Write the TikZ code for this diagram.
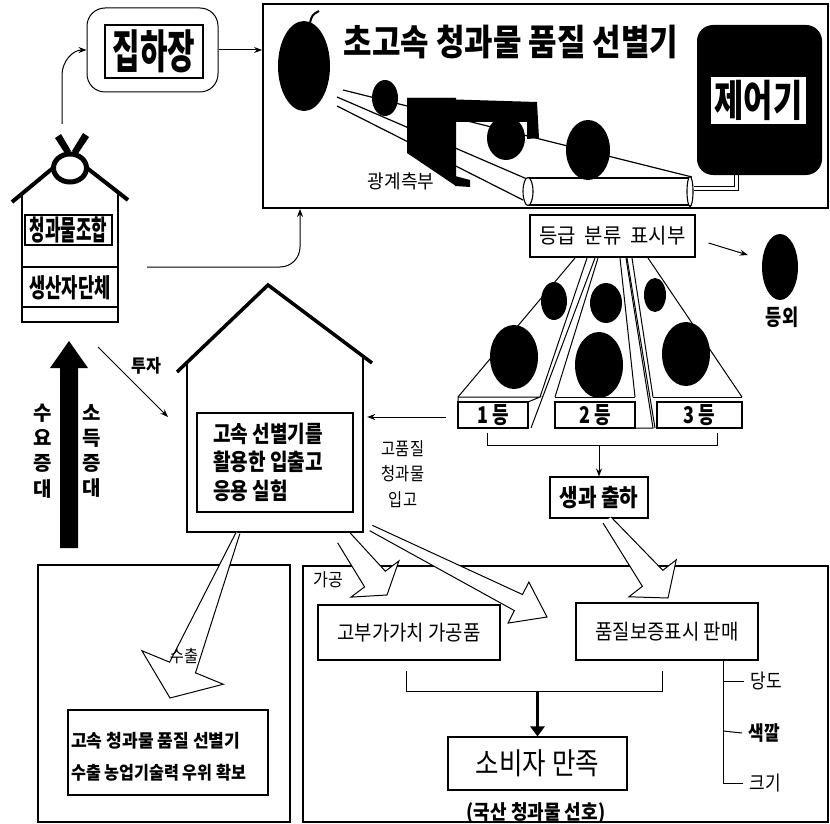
\documentclass[tikz,border=0pt]{standalone}
\usepackage{fontspec}
\usepackage{graphicx}
\setmainfont{Noto Sans CJK KR}
\usetikzlibrary{arrows.meta,calc,shapes.geometric}

\newcommand\cx[2]{\scalebox{#1}[1]{#2}}
\newcommand\fsz[1]{\fontsize{#1}{#1}\selectfont}
% tapered block arrow with open tail: start, tip, half width at start,
% half width at head base, half head width, head length
\newcommand\hollowarrow[6]{%
  \coordinate (ha-base) at ($(#2)!#6!(#1)$);
  \draw[hollow] ($(#1)!#3!90:(#2)$) -- ($(ha-base)!#4!90:(#2)$)
    -- ($(ha-base)!#5!90:(#2)$) -- (#2) -- ($(ha-base)!#5!-90:(#2)$)
    -- ($(ha-base)!#4!-90:(#2)$) -- ($(#1)!#3!-90:(#2)$);}

\begin{document}
\begin{tikzpicture}[x=1pt,y=-1pt,
  frame/.style={draw,line width=1.8pt,inner sep=0pt},
  box/.style={draw,line width=1.1pt,fill=white,inner sep=0pt},
  txt/.style={inner sep=0pt},
  ln/.style={line width=1pt},
  arr/.style={line width=1pt,-{Stealth[length=8pt,width=6pt]}},
  hollow/.style={line width=1pt,fill=white,line join=miter},
  ball/.style={fill=black}]
\useasboundingbox[fill=white] (0,0) rectangle (830,824);

% ---------- frames ----------
\node[frame,minimum width=565pt,minimum height=204pt] (sorter) at (545.5,106) {};
\node[frame,minimum width=252pt,minimum height=257pt] (lframe) at (164,693.5) {};
\node[frame,minimum width=525pt,minimum height=256pt] (rframe) at (565.5,694) {};

% ---------- collection yard ----------
\node[draw,line width=1pt,rounded corners=18pt,minimum width=131pt,minimum height=84pt] (jip) at (152.5,50) {};
\node[box,minimum width=98pt,minimum height=53pt] (jipin) at (154,51.5) {\fsz{46}\bfseries\cx{0.65}{집하장}};

% ---------- high-speed grader ----------
\fill (304,66) ellipse[x radius=26pt,y radius=45pt];
\draw[line width=2pt] (310,23) .. controls (312,15) .. (319,11);
\node[txt] (title) at (511,42) {\fsz{36}\bfseries\cx{0.86}{초고속 청과물 품질 선별기}};

\node[fill=black,rounded corners=16pt,minimum width=125pt,minimum height=150pt] (ctrl) at (759.5,100) {};
\node[fill=white,inner sep=0pt,minimum width=95pt,minimum height=47pt] (ctrltxt) at (758.5,100.5) {\fsz{43}\bfseries\cx{0.74}{제어기}};

% rails
\draw[line width=1.2pt] (343,90) -- (692,177);
\draw[line width=1.2pt] (337,97) -- (527,179);
\draw[line width=1.2pt] (337,106) -- (523,200);
% pipe and wire to the controller
\draw[line width=1.1pt,fill=white] (528,178) -- (690,178) -- (690,205) -- (528,205);
\draw[line width=1.1pt,fill=white] (528,191.5) ellipse[x radius=5pt,y radius=14pt];
\draw[line width=1.1pt,fill=white] (690,191.5) ellipse[x radius=3pt,y radius=15pt];
\coordinate (wireA) at (694,186);
\coordinate (wireB) at (694,190);
\draw[line width=1pt] (wireA) -| ($(ctrl.south)+(-25,0)$);
\draw[line width=1pt] (wireB) -| ($(ctrl.south)+(-21,0)$);
% optical measuring head: left face, top bar, lower lip
\fill (407,98) -- (456,98) -- (456,186) -- (407,153) -- cycle;
\fill (407,98) -- (537,102) -- (539,138) -- (527,139) -- (527,122) -- (455,122) -- (455,98) -- cycle;
\fill (455,176) -- (470,180) -- (470,187) -- (455,186) -- cycle;
\fill (506,138) ellipse[x radius=19pt,y radius=22pt];
\fill (385,98) ellipse[x radius=13pt,y radius=18pt];
\fill (588,150) ellipse[x radius=22pt,y radius=30pt];
\node[txt] (optic) at (401,181) {\fsz{19}\cx{0.95}{광계측부}};

% ---------- grading display and chutes ----------
\node[box,minimum width=165pt,minimum height=42pt] (grade) at (612.5,236) {\fsz{21}\cx{0.95}{등급\ \ 분류\ \ 표시부}};

% chute 1
\draw[ln] (575,258) -- (458,397);
\draw[ln] (587,258) -- (540,397);
\draw[ln] (595,258) -- (531,428);
\draw[ln,fill=white] (458,397) -- (540,397) -- (528,402) -- (458,402) -- cycle;
\node[box,minimum width=70pt,minimum height=26pt] (g1) at (493,415) {\fsz{23}\bfseries\cx{0.78}{1 등}};
% chute 2
\draw[ln] (598,258) -- (555,397);
\draw[ln] (620,258) -- (635,397);
\draw[ln] (626,258) -- (653,428) -- (635,428);
\draw[ln] (555,397) -- (635,397);
\node[box,minimum width=80pt,minimum height=26pt] (g2) at (595,415) {\fsz{23}\bfseries\cx{0.78}{2 등}};
% chute 3
\draw[ln] (627,258) -- (655,428);
\draw[ln] (632,258) -- (653,397);
\draw[ln] (648,258) -- (742,397);
\draw[ln] (653,397) -- (742,397);
\node[box,minimum width=85pt,minimum height=26pt] (g3) at (699.5,415) {\fsz{23}\bfseries\cx{0.78}{3 등}};
% fruit on the chutes
\fill (554,301) ellipse[x radius=13pt,y radius=19pt];
\fill (514,357) ellipse[x radius=24pt,y radius=32pt];
\fill (606,303) ellipse[x radius=16pt,y radius=20pt];
\fill (599,365) ellipse[x radius=24pt,y radius=33pt];
\fill (655,295) ellipse[x radius=11pt,y radius=17pt];
\fill (686,354) ellipse[x radius=24pt,y radius=32pt];

% off-grade
\node[ellipse,fill=black,inner sep=0pt,minimum width=36pt,minimum height=66pt] (offball) at (780,267) {};
\node[txt] (offtxt) at (782,317) {\fsz{22}\bfseries\cx{0.8}{등외}};
\draw[arr] ($(grade.east)+(13,7)$) -- ($(offball.west)+(-14,-12)$);

% fresh produce shipping
\node[box,minimum width=98pt,minimum height=41pt] (saeng) at (599,497.5) {\fsz{24}\bfseries\cx{0.84}{생과\ 출하}};
\coordinate (brL) at (487,433);
\coordinate (brR) at (717,433);
\draw[ln] (brL) -- ++(0,12) -| (brR);
\draw[arr] (saeng.north |- 0,445) -- (saeng.north);

% ---------- producer cooperative ----------
\draw[line width=1.2pt] (22,193) -- (22,322) -- (118,322) -- (118,192);
\draw[line width=1.2pt] (22,267) -- (118,267);
\draw[line width=1.2pt] (22,307) -- (118,307);
\draw[line width=4pt] (12,202) -- (53,168);
\draw[line width=4pt] (87,168) -- (128,200);
\draw[line width=5pt] (70,168) ellipse[x radius=16.5pt,y radius=14pt];
\fill (55,138) -- (61,134) -- (71,151) -- (66,155) -- cycle;
\fill (89,137) -- (83,133) -- (72,151) -- (77,155) -- cycle;
\coordinate (lhtop) at (62,124);
\node[box,minimum width=87pt,minimum height=30pt] (coop) at (68.5,230) {\fsz{28}\bfseries\cx{0.6}{청과물조합}};
\node[txt] (prod) at (70,288) {\fsz{26}\bfseries\cx{0.68}{생산자단체}};

\draw[arr] (lhtop) -- (62,75) to[out=90,in=180] (jip.west);
\draw[arr] (jip.east) -- (jip.east -| sorter.west);
\coordinate (lhout) at (147,267);
\coordinate (sortin) at (300,209);
\draw[arr] (lhout) -- (280,267) to[out=0,in=-90] (300,247) -- (sortin);

% demand / income growth
\fill (60,548) -- (60,368) -- (50,368) -- (69,341) -- (88,368) -- (78,368) -- (78,548) -- cycle;
\node[txt,align=center,font=\fontsize{20}{25.3}\selectfont\bfseries] (demand) at (43,451) {수\\요\\증\\대};
\node[txt,align=center,font=\fontsize{20}{25.3}\selectfont\bfseries] (income) at (92,451) {소\\득\\증\\대};

% ---------- storage house ----------
\draw[line width=3.5pt] (177,372) -- (268,285) -- (372,363);
\draw[line width=1.2pt] (187,362) -- (187,532) -- (363,532) -- (363,355);
\node[minimum width=176pt,minimum height=176pt,inner sep=0pt] (house) at (275,444) {};
\node[box,minimum width=156pt,minimum height=99pt] (stor) at (275,462.5) {};
\node[txt,anchor=west,align=left,font=\fontsize{23}{28.5}\selectfont\bfseries] (stortxt) at (213,462) {\cx{0.83}{고속 선별기를}\\\cx{0.83}{활용한 입출고}\\\cx{0.83}{응용 실험}};

\coordinate (tujaS) at (98,347);
\coordinate (tujaE) at (168,417);
\draw[arr] (tujaS) -- (tujaE);
\node[txt] (tuja) at (146,366) {\fsz{18}\bfseries\cx{0.9}{투자}};

\coordinate (gpin) at (446,417);
\draw[arr,shorten >=4pt] (gpin) -- (gpin -| house.east);
\node[txt,align=center,font=\fontsize{18}{25.5}\selectfont] (gp) at (403,474) {\cx{0.85}{고품질}\\\cx{0.85}{청과물}\\\cx{0.85}{입고}};

% ---------- outflow arrows ----------
\coordinate (aS) at (607,520);  \coordinate (aT) at (668,598);
\coordinate (bS) at (371,528);  \coordinate (bT) at (547,617);
\coordinate (cS) at (344,538);  \coordinate (cT) at (387,595);
\coordinate (dS) at (238,533);  \coordinate (dT) at (170,698);
\hollowarrow{aS}{aT}{5pt}{13pt}{30pt}{25pt}
\hollowarrow{bS}{bT}{3pt}{9pt}{23pt}{32pt}
\hollowarrow{cS}{cT}{8pt}{13pt}{30pt}{20pt}
\hollowarrow{dS}{dT}{2pt}{14pt}{44pt}{33pt}

% ---------- export ----------
\node[txt] (export) at (184,656) {\fsz{17}\cx{0.9}{수출}};
\node[box,minimum width=200pt,minimum height=85pt] (expbox) at (168,752.5) {};
\node[txt,anchor=west,align=left,font=\fontsize{18}{32}\selectfont\bfseries] (exptxt) at (71,757) {\cx{0.95}{고속 청과물 품질 선별기}\\\cx{0.9}{수출 농업기술력 우위 확보}};

% ---------- processing / sales ----------
\node[txt] (gagong) at (328,580) {\fsz{18}\cx{0.9}{가공}};
\node[box,minimum width=182pt,minimum height=55pt] (gobu) at (409,632.5) {\fsz{21}\cx{0.9}{고부가가치 가공품}};
\node[box,minimum width=182pt,minimum height=57pt] (pum) at (667,631.5) {\fsz{21}\cx{0.9}{품질보증표시 판매}};
\node[box,minimum width=179pt,minimum height=53pt] (sobi) at (537.5,763.5) {\fsz{30}\cx{0.85}{소비자 만족}};
\node[txt] (pref) at (536,813) {\fsz{20}\bfseries\cx{0.9}{(국산 청과물 선호)}};

\coordinate (cl) at (406,671);
\coordinate (cr) at (662,671);
\draw[ln] (cl) -- ++(0,20) -| (cr);
\draw[line width=3.5pt,-{Triangle[length=10pt,width=14pt]}] (sobi.north |- 0,691) -- (sobi.north);

\node[txt] (dangdo) at (766,681) {\fsz{20}\cx{0.85}{당도}};
\node[txt] (color) at (764,733) {\fsz{20}\bfseries\cx{0.85}{색깔}};
\node[txt] (size) at (765,783) {\fsz{20}\cx{0.85}{크기}};
\draw[ln] (pum.south -| 723,0) |- ($(size.west)+(-6,0)$);
\draw[ln] (723,681) -- ($(dangdo.west)+(-6,0)$);
\draw[ln] (723,731) -- ($(color.west)+(-6,0)$);
\end{tikzpicture}
\end{document}
